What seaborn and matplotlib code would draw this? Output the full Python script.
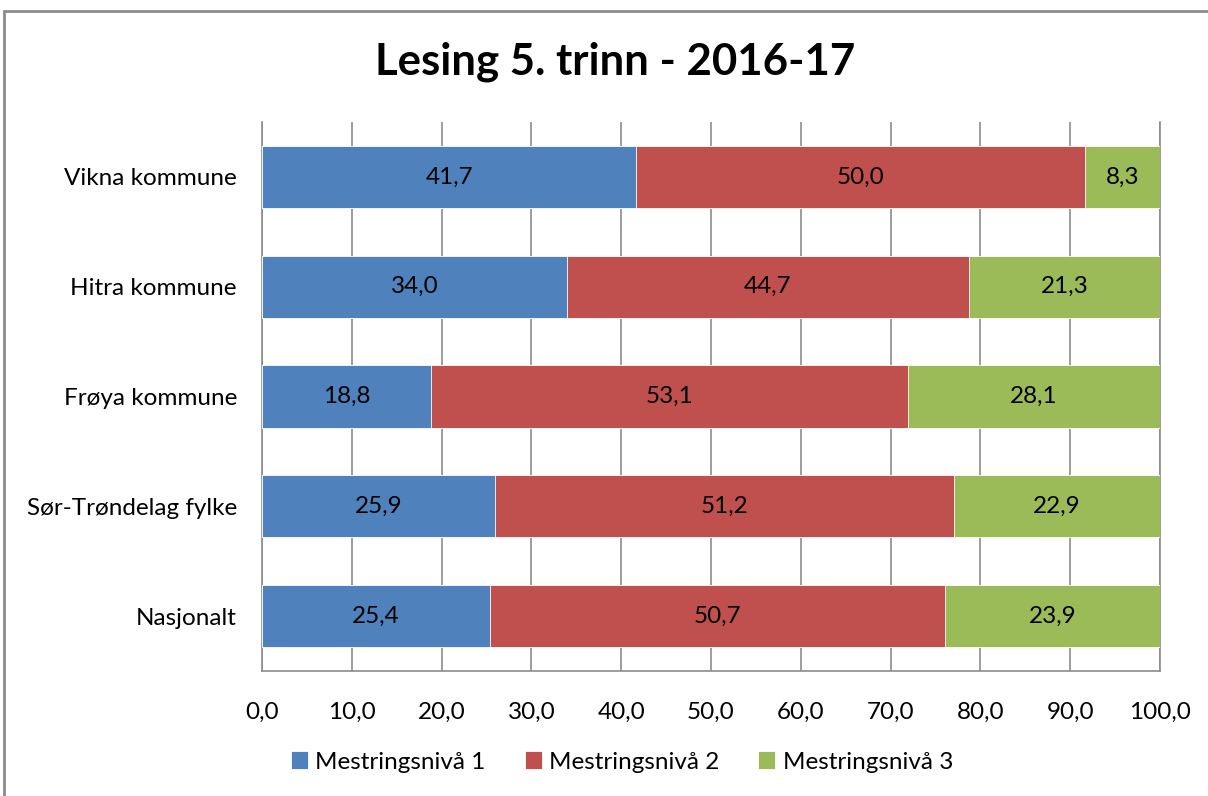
import numpy as np
import pandas as pd
import seaborn as sns
import matplotlib.pyplot as plt
from matplotlib.patches import Rectangle

# Data
regions = ["Vikna kommune", "Hitra kommune", "Frøya kommune", "Sør-Trøndelag fylke", "Nasjonalt"]
level_names = ["Mestringsnivå 1", "Mestringsnivå 2", "Mestringsnivå 3"]
niva1 = [41.7, 34.0, 18.8, 25.9, 25.4]
niva2 = [50.0, 44.7, 53.1, 51.2, 50.7]
niva3 = [8.3, 21.3, 28.1, 22.9, 23.9]
x_ticks = [0, 10, 20, 30, 40, 50, 60, 70, 80, 90, 100]

colors = ["#4F81BD", "#C0504D", "#9BBB59"]

sns.set_style("white")
plt.rcParams['font.family'] = ['Lato', 'DejaVu Sans']
plt.rcParams.update({"text.color": "black", "xtick.color": "black",
                     "ytick.color": "black", "axes.labelcolor": "black"})
fs = 17.5

df = pd.DataFrame({"region": regions, "n1": niva1, "n2": niva2, "n3": niva3})
df["c1"] = df["n1"]
df["c2"] = df["n1"] + df["n2"]
df["c3"] = df["c2"] + df["n3"]

fig = plt.figure(figsize=(12.08, 7.96), dpi=100)
ax = fig.add_axes([262 / 1208, 1 - 671 / 796, (1160 - 262) / 1208, (671 - 122) / 796])

# stacked bars: draw cumulative totals from the back to the front
for col, color, name in zip(["c3", "c2", "c1"], colors[::-1], level_names[::-1]):
    sns.barplot(data=df, x=col, y="region", color=color, saturation=1, width=0.565,
                edgecolor="white", linewidth=0.6, ax=ax, label=name, zorder=3)

# value labels in the middle of each segment
for i, row in df.iterrows():
    for val, cum in [(row["n1"], row["c1"]), (row["n2"], row["c2"]), (row["n3"], row["c3"])]:
        ax.text(cum - val / 2, i, f"{val:.1f}".replace(".", ","), ha="center", va="center",
                fontsize=fs, color="black", zorder=5)

ax.set_xlim(0, 100)
ax.set_ylim(4.5, -0.5)
ax.set_xticks(x_ticks)
ax.set_xticklabels([f"{t:.1f}".replace(".", ",") for t in x_ticks], fontsize=fs)
ax.tick_params(axis="x", length=0, pad=22)
ax.tick_params(axis="y", length=0, pad=18, labelsize=fs)
ax.set_xlabel("")
ax.set_ylabel("")
ax.grid(axis="x", color="#8C8C8C", linewidth=1.2, zorder=0)
ax.set_axisbelow(True)
for side in ["left", "right", "bottom"]:
    ax.spines[side].set_color("#8C8C8C")
    ax.spines[side].set_linewidth(1.2)
ax.spines["top"].set_visible(False)

# legend in the original order
handles, labels = ax.get_legend_handles_labels()
order = [labels.index(n) for n in level_names]
ax.legend([handles[k] for k in order], level_names, loc="center", ncol=3,
          bbox_to_anchor=(622 / 1208, (796 - 762) / 796), bbox_transform=fig.transFigure,
          frameon=False, fontsize=fs, handlelength=0.7, handleheight=0.7,
          handletextpad=0.3, columnspacing=1.6)

fig.suptitle("Lesing 5. trinn - 2016-17", fontsize=31.5, fontweight="bold",
             x=615 / 1208, y=1 - 62 / 796, va="center")

# chart frame
fig.patches.append(Rectangle((4 / 1208, -0.05), 1.1, 1 - 11 / 796 + 0.05,
                             transform=fig.transFigure, fill=False,
                             edgecolor="#8C8C8C", linewidth=2))

fig.savefig("out.png", dpi=100)
